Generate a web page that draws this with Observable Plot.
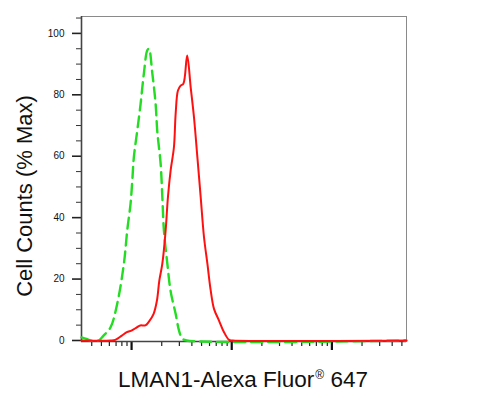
<!DOCTYPE html>
<html>
<head>
<meta charset="utf-8">
<script src="https://cdn.jsdelivr.net/npm/d3@7"></script>
<script src="https://cdn.jsdelivr.net/npm/@observablehq/plot@0.6"></script>
<style>
  html, body { margin: 0; padding: 0; background: #fff; }
</style>
</head>
<body>
<div id="chart"></div>
<script>
// Isotype control (green dashed)
const greenX = [316, 355, 389, 468, 525, 617, 719, 838, 906, 977, 1016, 1054, 1140, 1230, 1327, 1435, 1489, 1611, 1738, 1807, 1950, 2028, 2104, 2275, 2455, 2754, 2972, 3214, 3548, 555000];
const greenY = [1.0, 0.5, 0, 0, 1.6, 4.3, 12, 25, 36, 44.6, 52, 59.7, 68.4, 77, 87, 94.5, 95, 87, 77, 68, 57.6, 46.7, 35.8, 25, 16, 8.7, 3.3, 0.6, 0, 0];
// LMAN1 stained (red solid)
const redX = [316, 617, 687, 800, 897, 1007, 1130, 1222, 1371, 1479, 1660, 1791, 1892, 2028, 2188, 2307, 2455, 2649, 2754, 2904, 3090, 3289, 3589, 3890, 4198, 4539, 4898, 5284, 5715, 6166, 6653, 7464, 8375, 9397, 10233, 555000];
const redY = [0, 0, 0.2, 1.6, 2.7, 3.3, 4.3, 4.9, 4.9, 6, 8.7, 13, 19.5, 25, 35.8, 46.7, 55.4, 63, 73.8, 81.4, 83, 83.6, 92.8, 82.5, 72.7, 59.7, 46.7, 33.7, 25, 16.3, 10.3, 6.5, 2.7, 0.2, 0, 0];

const yMajorTicks = [0, 20, 40, 60, 80, 100];
const yMinorTicks = [5, 10, 15, 25, 30, 35, 45, 50, 55, 65, 70, 75, 85, 90, 95, 105];
const xMajorTicks = [1000, 10000, 100000];
const xMinorTicks = [400, 500, 600, 700, 800, 900, 2000, 3000, 4000, 5000, 6000, 7000, 8000, 9000, 20000, 30000, 40000, 50000, 60000, 70000, 80000, 90000, 200000, 300000, 400000, 500000];

const xLabelMain = "LMAN1-Alexa Fluor";
const xLabelSup = "®";
const xLabelEnd = " 647";
const yLabel = "Cell Counts (% Max)";

const xDomain = [316.2, 555904];
const yDomain = [-0.33, 105.5];

const green = greenX.map((x, i) => ({x, y: greenY[i]}));
const red = redX.map((x, i) => ({x, y: redY[i]}));

const chart = Plot.plot({
  width: 479,
  height: 402,
  marginLeft: 81,
  marginRight: 73,
  marginTop: 16,
  marginBottom: 61,
  style: {fontFamily: "'Liberation Sans', Arial, sans-serif", background: "#fff", color: "#111"},
  x: {type: "log", domain: xDomain},
  y: {domain: yDomain},
  marks: [
    Plot.frame({stroke: "#8a8a8a", strokeWidth: 1}),
    Plot.axisY({ticks: yMinorTicks, tickSize: 5, tickFormat: () => "", label: null, stroke: "#333", strokeWidth: 1}),
    Plot.axisY({ticks: yMajorTicks, tickSize: 9, tickPadding: 8, label: null, stroke: "#222", strokeWidth: 1.6, fontSize: 10, fill: "#111"}),
    Plot.axisX({ticks: xMinorTicks, tickSize: 5, tickFormat: () => "", label: null, stroke: "#222", strokeWidth: 1.2}),
    Plot.axisX({ticks: xMajorTicks, tickSize: 9, tickFormat: () => "", label: null, stroke: "#111", strokeWidth: 2.2}),
    Plot.ruleX([xDomain[0]], {stroke: "#444", strokeWidth: 1.6}),
    Plot.ruleY([yDomain[0]], {stroke: "#444", strokeWidth: 1.6}),
    Plot.line(green, {x: "x", y: "y", stroke: "#22dd22", strokeWidth: 2.4, strokeDasharray: "11,6", curve: "catmull-rom"}),
    Plot.line(red, {x: "x", y: "y", stroke: "#ff1010", strokeWidth: 2, curve: "catmull-rom"})
  ]
});

const svg = d3.select(chart);
const xl = svg.append("text")
  .attr("x", 243)
  .attr("y", 387)
  .attr("text-anchor", "middle")
  .attr("font-size", 22.5)
  .attr("fill", "#111")
  .attr("font-family", "'Liberation Sans', Arial, sans-serif");
xl.append("tspan").text(xLabelMain);
xl.append("tspan").attr("font-size", 12).attr("dy", -8).attr("dx", 1).text(xLabelSup);
xl.append("tspan").attr("dy", 8).text(xLabelEnd);

svg.append("text")
  .attr("transform", "translate(32,196) rotate(-90)")
  .attr("text-anchor", "middle")
  .attr("font-size", 22)
  .attr("fill", "#111")
  .attr("font-family", "'Liberation Sans', Arial, sans-serif")
  .text(yLabel);

document.getElementById("chart").appendChild(chart);
</script>
</body>
</html>
